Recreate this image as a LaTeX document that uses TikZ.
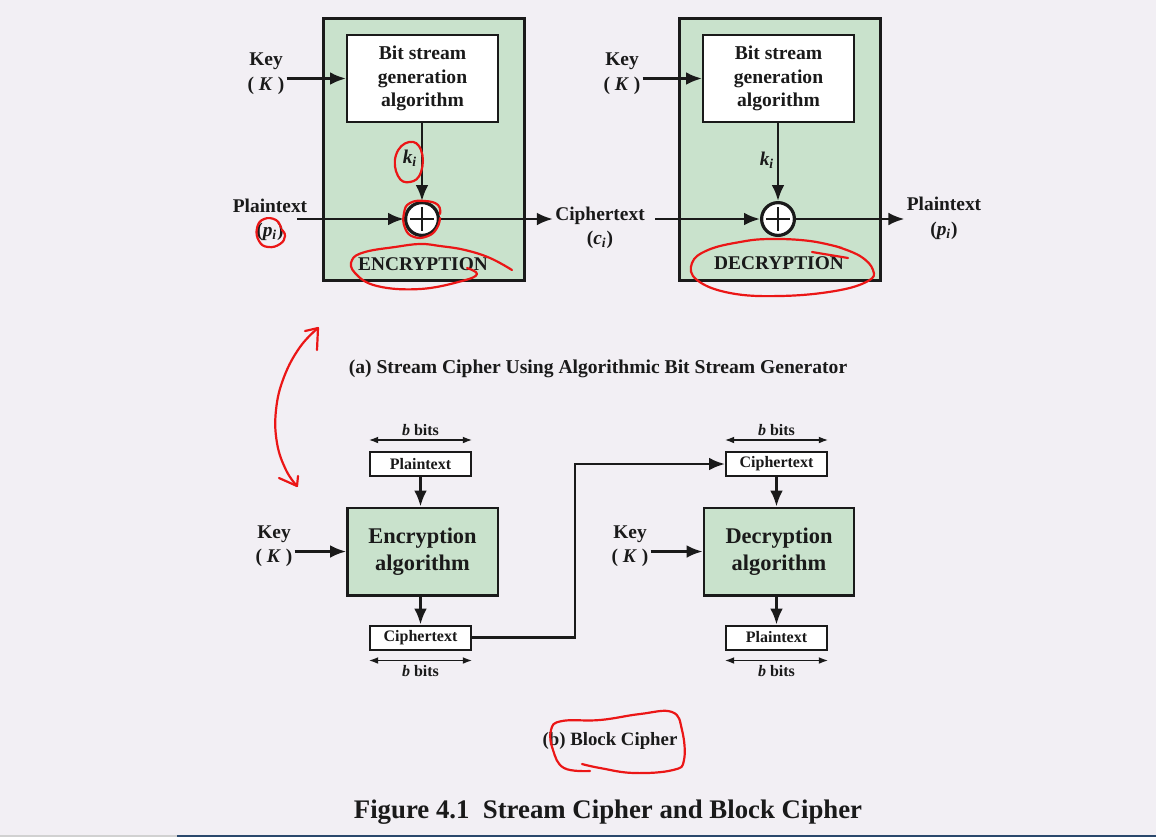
\documentclass[tikz,border=0pt]{standalone}
\usepackage{fontspec}
\setmainfont{Liberation Serif}
\usetikzlibrary{arrows.meta}

\definecolor{paper}{RGB}{242,239,244}
\definecolor{boxgreen}{RGB}{201,226,204}
\definecolor{ink}{RGB}{26,26,26}
\definecolor{pen}{RGB}{235,22,22}
\definecolor{rulecol}{RGB}{42,72,108}
\newcommand{\bitsub}[2]{\textit{#1}\textsubscript{\textit{#2}}}

\tikzset{
  unit/.style={draw=ink, line width=1.6pt, fill=boxgreen, minimum width=100.4pt, minimum height=131pt},
  genbox/.style={draw=ink, line width=1pt, fill=white, minimum width=75.5pt, minimum height=43.5pt,
    align=center, inner sep=0pt, font=\fontsize{9.8}{11.7}\selectfont\bfseries},
  algbox/.style={draw=ink, line width=1.2pt, fill=boxgreen, minimum width=75.2pt, minimum height=43.8pt,
    align=center, inner sep=0pt, font=\fontsize{11.2}{13.3}\selectfont\bfseries},
  blockbox/.style={draw=ink, line width=1pt, fill=white, minimum width=50.5pt, minimum height=12pt,
    inner sep=0pt, font=\fontsize{8}{9}\selectfont\bfseries},
  xorsym/.style={circle, draw=ink, line width=1.6pt, fill=white, minimum size=16.4pt, inner sep=0pt,
    path picture={\draw[ink, line width=1.4pt]
      ([xshift=-5.8pt]path picture bounding box.center) -- ([xshift=5.8pt]path picture bounding box.center)
      ([yshift=-5.8pt]path picture bounding box.center) -- ([yshift=5.8pt]path picture bounding box.center);}},
  lbl/.style={align=center, inner sep=1pt, font=\fontsize{9.7}{12.3}\selectfont\bfseries},
  bitlbl/.style={inner sep=1pt, font=\fontsize{8}{9}\selectfont\bfseries},
  arr/.style={-{Latex[length=8pt,width=6.4pt]}, line width=1.3pt, draw=ink},
  span/.style={{Latex[length=4.6pt,width=3.4pt]}-{Latex[length=4.6pt,width=3.4pt]}, line width=0.6pt, draw=ink},
  scribble/.style={draw=pen, line width=1.1pt, line cap=round, line join=round},
}

\begin{document}
\begin{tikzpicture}[x=0.5pt, y=-0.5pt, text=ink]
  \useasboundingbox[fill=paper] (0,0) rectangle (1156,837);
  \fill[black!18] (0,834.5) rectangle (177,837);
  \fill[rulecol] (177,834.5) rectangle (1156,837);

  % (a) stream cipher, encryption side
  \node[unit] (encA) at (424,149.5) {};
  \node[genbox] (genA) at (422.5,78.5) {Bit stream\\generation\\algorithm};
  \node[xorsym] (xorA) at (422,219) {};
  \node[lbl] (kiA) at (410,158) {\bitsub{k}{i}};
  \node[lbl] (keyA) at (266,74) {Key\\( \textit{K} )};
  \node[lbl] (ptA) at (270,220) {Plaintext\\(\bitsub{p}{i})};
  \node[lbl] (tagA) at (423,264) {ENCRYPTION};
  \node[lbl] (ctA) at (600,228) {Ciphertext\\(\bitsub{c}{i})};
  \coordinate (ptAout) at (297,219);
  \draw[arr] (keyA.east |- genA.west) -- (genA.west);
  \draw[arr] (genA.south -| xorA.north) -- (xorA.north);
  \draw[arr] (ptAout) -- (xorA.west);
  \draw[arr] (xorA.east) -- (ctA.west |- xorA.east);

  % (a) decryption side
  \node[unit] (decB) at (780,149.5) {};
  \node[genbox] (genB) at (778.5,78.5) {Bit stream\\generation\\algorithm};
  \node[xorsym] (xorB) at (778,219) {};
  \node[lbl] (kiB) at (767,160) {\bitsub{k}{i}};
  \node[lbl] (keyB) at (622,74) {Key\\( \textit{K} )};
  \node[lbl] (ptB) at (944,218.5) {Plaintext\\(\bitsub{p}{i})};
  \node[lbl] (tagB) at (779,263) {DECRYPTION};
  \coordinate (ctAout) at (655,219);
  \draw[arr] (keyB.east |- genB.west) -- (genB.west);
  \draw[arr] (genB.south -| xorB.north) -- (xorB.north);
  \draw[arr] (ctAout) -- (xorB.west);
  \draw[arr] (xorB.east) -- (ptB.west |- xorB.east);

  \node[lbl, font=\fontsize{9.8}{12}\selectfont\bfseries] (capA) at (598,369)
    {(a) Stream Cipher Using Algorithmic Bit Stream Generator};

  % (b) block cipher
  \node[blockbox] (ptC) at (420.5,464) {Plaintext};
  \node[algbox] (encC) at (422.5,551.5) {Encryption\\algorithm};
  \node[blockbox] (ctC) at (420.5,637.5) {Ciphertext};
  \node[lbl] (keyC) at (274,546) {Key\\( \textit{K} )};
  \draw[arr] (ptC.south) -- (ptC.south |- encC.north);
  \draw[arr] (encC.south -| ctC.north) -- (ctC.north);
  \draw[arr] (keyC.east |- encC.west) -- (encC.west);
  \draw[span] ([yshift=5.5pt]ptC.north west) -- node[above=1pt, bitlbl] (bitsC1) {\textit{b} bits} ([yshift=5.5pt]ptC.north east);
  \draw[span] ([yshift=-5pt]ctC.south west) -- node[below=1pt, bitlbl] (bitsC2) {\textit{b} bits} ([yshift=-5pt]ctC.south east);

  \node[blockbox] (ctD) at (776.5,464) {Ciphertext};
  \node[algbox] (decD) at (779,551.5) {Decryption\\algorithm};
  \node[blockbox] (ptD) at (776.5,637.5) {Plaintext};
  \node[lbl] (keyD) at (630,546) {Key\\( \textit{K} )};
  \draw[arr] (ctD.south) -- (ctD.south |- decD.north);
  \draw[arr] (decD.south -| ptD.north) -- (ptD.north);
  \draw[arr] (keyD.east |- decD.west) -- (decD.west);
  \draw[span] ([yshift=5.5pt]ctD.north west) -- node[above=1pt, bitlbl] (bitsD1) {\textit{b} bits} ([yshift=5.5pt]ctD.north east);
  \draw[span] ([yshift=-5pt]ptD.south west) -- node[below=1pt, bitlbl] (bitsD2) {\textit{b} bits} ([yshift=-5pt]ptD.south east);

  \draw[arr] (ctC.east) -- ++(103,0) |- (ctD.west);

  \node[lbl, font=\fontsize{9.4}{11}\selectfont\bfseries] (capB) at (610,741) {(b) Block Cipher};
  \node[lbl, font=\fontsize{13.4}{16}\selectfont\bfseries] (figcap) at (608,812)
    {Figure 4.1\ \ Stream Cipher and Block Cipher};

  % red pen marks
  \draw[scribble] plot[smooth cycle, tension=0.8] coordinates {(409,142) (421,150) (421,172) (410,182) (398,176) (396,155)};
  \draw[scribble] plot[smooth, tension=0.8] coordinates {(440,214) (438,205) (425,201) (410,203) (404,213) (405,228) (414,237) (428,236) (437,228) (440,218)};
  \draw[scribble] plot[smooth, tension=0.8] coordinates {(281,228) (276,220) (264,219) (257,228) (259,241) (268,247) (280,244) (285,236) (282,230)};
  \draw[scribble] plot[smooth, tension=0.7] coordinates {(512,270) (490,258) (465,250) (440,246) (420,244) (395,247) (365,252) (352,260) (355,273) (377,286) (420,289) (462,281) (477,274) (467,268)};
  \draw[scribble] plot[smooth, tension=0.7] coordinates {(842,248) (810,241) (770,239) (740,242) (708,250) (692,263) (697,280) (730,293) (780,296) (835,291) (868,281) (873,270) (860,256) (835,246)};
  \draw[scribble] (812,252) -- (848,258);
  \draw[scribble] plot[smooth, tension=0.7] coordinates {(318,328) (300,347) (284,377) (276,410) (277,443) (286,470) (297,486)};
  \draw[scribble] (305,331) -- (318,328) -- (317,350);
  \draw[scribble] (279,478) -- (297,486) -- (298,476);
  \draw[scribble] plot[smooth, tension=0.7] coordinates {(582,764) (600,768) (634,773) (673,770) (684,760) (682,730) (672,712) (640,714) (600,720) (562,721) (551,730) (553,750) (564,768) (590,771)};
\end{tikzpicture}
\end{document}
